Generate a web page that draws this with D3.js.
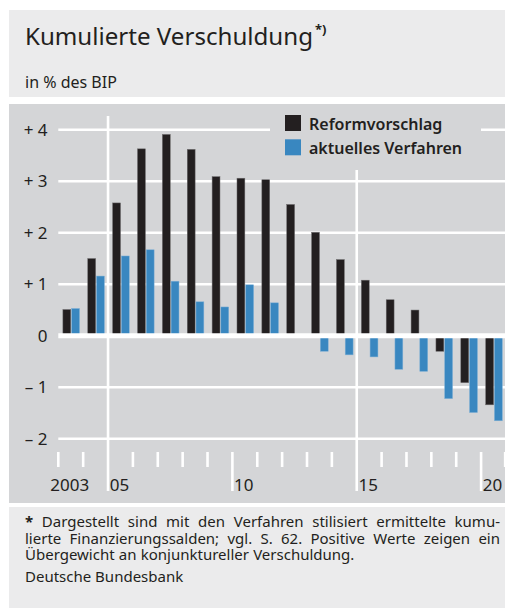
<!DOCTYPE html>
<html>
<head>
<meta charset="utf-8">
<script src="https://cdn.jsdelivr.net/npm/d3@7"></script>
<style>
  body { margin: 0; background: #fff; }
  svg { display: block; font-family: "Noto Sans", "Open Sans", sans-serif; }
</style>
</head>
<body>
<div id="chart"></div>
<script>
// Kumulierte Verschuldung, in % des BIP
let years = [2003, 2004, 2005, 2006, 2007, 2008, 2009, 2010, 2011, 2012, 2013, 2014, 2015, 2016, 2017, 2018, 2019, 2020];
let reform = [0.51, 1.50, 2.58, 3.63, 3.91, 3.62, 3.09, 3.06, 3.03, 2.55, 2.01, 1.48, 1.08, 0.70, 0.50, -0.30, -0.91, -1.34];
let aktuell = [0.53, 1.16, 1.55, 1.67, 1.06, 0.66, 0.56, 0.99, 0.64, 0.00, -0.30, -0.37, -0.41, -0.65, -0.69, -1.22, -1.49, -1.65];
let seriesNames = ["Reformvorschlag", "aktuelles Verfahren"];
let seriesColors = ["#231f20", "#3987c0"];
let yTicks = [4, 3, 2, 1, 0, -1, -2];
let yTickLabels = ["+ 4", "+ 3", "+ 2", "+ 1", "0", "\u2013 1", "\u2013 2"];
let xLabelYears = [2003, 2005, 2010, 2015, 2020];
let xLabels = ["2003", "05", "10", "15", "20"];
let footLines = [
  "Dargestellt sind mit den Verfahren stilisiert ermittelte kumu-",
  "lierte Finanzierungssalden; vgl. S. 62. Positive Werte zeigen ein",
  "\u00dcbergewicht an konjunktureller Verschuldung."
];

let W = 505, H = 608;
let ink = "#231f20";
let panel = "#d4d5d7";
let light = "#ebebec";

let svg = d3.select("#chart").append("svg")
    .attr("width", W)
    .attr("height", H);

// boxes
svg.append("rect").attr("x", 9).attr("y", 10).attr("width", W - 9).attr("height", 87).style("fill", light);
svg.append("rect").attr("x", 9).attr("y", 104).attr("width", W - 9).attr("height", 399).style("fill", panel);
svg.append("rect").attr("x", 9).attr("y", 507).attr("width", W - 9).attr("height", H - 507).style("fill", light);

// title
let title = svg.append("text")
    .attr("x", 25).attr("y", 45)
    .style("font-size", "24px")
    .style("fill", ink)
    .text("Kumulierte Verschuldung");
title.attr("textLength", 288).attr("lengthAdjust", "spacingAndGlyphs");
svg.append("text")
    .attr("x", 315).attr("y", 34)
    .style("font-size", "13px")
    .style("font-weight", "bold")
    .style("fill", ink)
    .text("*)");

svg.append("text")
    .attr("x", 25).attr("y", 88)
    .style("font-size", "16px")
    .style("fill", ink)
    .text("in % des BIP");

// scales
let x = d3.scaleBand()
    .domain(years)
    .range([58.3, 58.3 + years.length * 24.87]);

let x1 = d3.scaleBand()
    .domain(seriesNames)
    .range([4.6, 21.2])
    .paddingInner(0.1);

let y = d3.scaleLinear()
    .domain([-2, 4])
    .range([438.8, 129.8]);

let g = svg.append("g");

// grid lines (not zero)
g.selectAll(".grid")
    .data(yTicks.filter(d => d !== 0))
    .enter().append("line")
    .attr("x1", 58.3).attr("x2", W)
    .attr("y1", d => y(d)).attr("y2", d => y(d))
    .style("stroke", "#fff")
    .style("stroke-width", 2.6);

// vertical year ticks
let tickYears = years.concat([years[years.length - 1] + 1]);
let xEdge = d => d > years[years.length - 1] ? x.range()[1] - 0.8 : x(d);
g.selectAll(".tick")
    .data(tickYears)
    .enter().append("line")
    .attr("x1", d => xEdge(d)).attr("x2", d => xEdge(d))
    .attr("y1", d => (d === 2005 || d === 2015) ? 116 : 452)
    .attr("y2", d => (d % 5 === 0) ? 491 : 467)
    .style("stroke", "#fff")
    .style("stroke-width", 2.6);

// bars
let rows = years.map((yr, i) => ({year: yr, values: [reform[i], aktuell[i]]}));
let groups = g.selectAll(".year")
    .data(rows)
    .enter().append("g")
    .attr("transform", d => "translate(" + x(d.year) + ",0)");

groups.selectAll("rect")
    .data(d => d.values.map((v, j) => ({name: seriesNames[j], value: v, color: seriesColors[j]})))
    .enter().append("rect")
    .filter(d => d.value !== 0)
    .attr("x", d => x1(d.name))
    .attr("width", x1.bandwidth())
    .attr("y", d => Math.min(y(d.value), y(0)))
    .attr("height", d => Math.abs(y(d.value) - y(0)))
    .style("fill", d => d.color)
    .style("stroke", d => d.name === seriesNames[0] ? "#6d6b6c" : "#7fb0d6")
    .style("stroke-width", 0.5);

// zero line on top of bars
g.append("line")
    .attr("x1", 58.3).attr("x2", W)
    .attr("y1", y(0)).attr("y2", y(0))
    .style("stroke", "#fff")
    .style("stroke-width", 5);

// y labels
g.selectAll(".ylab")
    .data(yTicks)
    .enter().append("text")
    .attr("x", 47.5)
    .attr("y", d => y(d))
    .attr("dy", "0.36em")
    .attr("text-anchor", "end")
    .style("font-size", "17px")
    .style("fill", ink)
    .text((d, i) => yTickLabels[i]);

// x labels
g.selectAll(".xlab")
    .data(xLabelYears)
    .enter().append("text")
    .attr("x", d => x(d) + x.bandwidth() / 2 - 1)
    .attr("y", 491)
    .attr("text-anchor", "middle")
    .style("font-size", "17px")
    .style("fill", ink)
    .text((d, i) => xLabels[i]);

// legend
let legend = svg.append("g");
legend.append("rect")
    .attr("x", 270).attr("y", 110).attr("width", 211).attr("height", 60)
    .style("fill", panel);
legend.selectAll(".key")
    .data(seriesNames)
    .enter().append("rect")
    .attr("x", 285)
    .attr("y", (d, i) => 115 + i * 24.3)
    .attr("width", 16).attr("height", 16)
    .style("fill", (d, i) => seriesColors[i]);
legend.selectAll(".ltext")
    .data(seriesNames)
    .enter().append("text")
    .attr("x", 309)
    .attr("y", (d, i) => 130 + i * 24.3)
    .style("font-size", "16px")
    .style("font-weight", 600)
    .style("fill", ink)
    .text(d => d);

// footnote: one text block, words as tspans so the first two lines are justified
let footText = svg.append("text").style("font-size", "15px").style("fill", ink);
footLines.forEach((line, i) => {
  let words = line.split(" ");
  if (i === 0) words.unshift("*");
  let ly = 527 + i * 16.6;
  let spans = words.map(w => footText.append("tspan")
      .attr("y", ly)
      .style("font-weight", w === "*" ? "bold" : null)
      .text(w));
  let widths = spans.map(s => s.node().getComputedTextLength());
  let total = d3.sum(widths);
  let gap = i < 2 ? (500 - 25 - total) / (words.length - 1) : 4.2;
  let cx = 25;
  spans.forEach((s, k) => { s.attr("x", cx); cx += widths[k] + gap; });
});
svg.append("text")
    .attr("x", 25).attr("y", 582)
    .style("font-size", "15px")
    .style("fill", ink)
    .text("Deutsche Bundesbank");
</script>
</body>
</html>
